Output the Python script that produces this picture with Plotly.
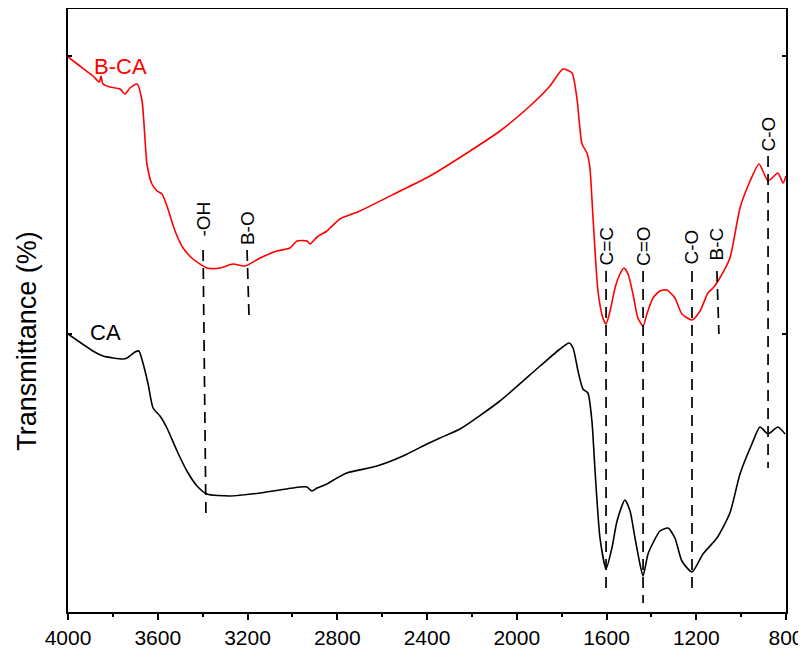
import plotly.graph_objects as go

# B-CA (red) spectrum: wavenumber (cm-1) and transmittance (arbitrary offset units)
bca_wn = [4000, 3947, 3889, 3860, 3853, 3844, 3813, 3768, 3746, 3724, 3692, 3670, 3648, 3626, 3603, 3581, 3559,
          3523, 3487, 3443, 3381, 3323, 3265, 3211, 3144, 3069, 3011, 2979, 2935, 2921, 2890,
          2846, 2788, 2699, 2520, 2387, 2208, 2075, 1941, 1852, 1794, 1754, 1732, 1709, 1687,
          1674, 1660, 1638, 1616, 1602, 1584, 1562, 1540, 1522, 1504, 1482, 1460, 1437, 1420,
          1393, 1362, 1330, 1295, 1264, 1219, 1183, 1148, 1125, 1103, 1050, 1005, 960, 920,
          880, 836, 813, 800]
bca_t = [555, 546, 536, 530, 536, 528, 525, 523, 518, 524, 528, 511, 448, 428, 421, 418, 406,
         381, 364, 353, 344, 344, 348, 346, 354, 361, 364, 371, 371, 368, 375,
         381, 393, 401, 421, 436, 461, 481, 506, 526, 543, 539, 514, 468, 459,
         444, 394, 321, 294, 288, 301, 324, 338, 344, 338, 318, 294, 286, 298,
         314, 321, 322, 314, 298, 292, 301, 319, 324, 331, 354, 404, 431, 448,
         431, 439, 429, 436]

# CA (black) spectrum
ca_wn = [4000, 3889, 3844, 3755, 3737, 3701, 3684, 3666, 3643, 3621, 3590, 3559, 3514, 3470,
         3425, 3381, 3278, 3144, 2966, 2935, 2913, 2890, 2846, 2801, 2757, 2623, 2507, 2400,
         2342, 2253, 2075, 1896, 1807, 1767, 1749, 1727, 1705, 1683, 1665, 1651, 1629, 1602,
         1576, 1553, 1518, 1495, 1473, 1451, 1437, 1415, 1393, 1362, 1326, 1295, 1264, 1219,
         1170, 1108, 1050, 1005, 952, 916, 880, 836, 804]
ca_t = [278, 261, 256, 253, 254, 260, 261, 249, 228, 204, 196, 184, 161, 141,
        126, 118, 116, 119, 125, 125, 121, 124, 128, 134, 139, 146, 156, 168,
        174, 183, 211, 246, 263, 269, 264, 241, 223, 219, 191, 141, 74, 43,
        64, 91, 112, 101, 74, 48, 36, 58, 69, 81, 84, 74, 51, 40,
        58, 74, 99, 138, 168, 185, 178, 185, 178]

# Band markers: label, x at top, x at bottom, y top, y bottom
band_labels = ["-OH", "B-O", "C=C", "C=O", "C-O", "B-C", "C-O"]
band_x_top = [3398, 3202, 1602, 1437, 1219, 1108, 880]
band_x_bot = [3385, 3193, 1602, 1437, 1219, 1099, 880]
band_y_top = [362, 362, 341, 341, 341, 341, 456]
band_y_bot = [93, 294, 23, 9, 24, 278, 144]
band_label_gap = [11, 3, 3, 3, 5, 9, 2]

x_ticks = [4000, 3600, 3200, 2800, 2400, 2000, 1600, 1200, 800]

FONT = "Arial, Liberation Sans, sans-serif"

fig = go.Figure()
fig.add_trace(go.Scatter(x=bca_wn, y=bca_t, mode="lines",
                         line=dict(color="#ff0000", width=1.6, shape="spline", smoothing=0.6),
                         showlegend=False, hoverinfo="skip"))
fig.add_trace(go.Scatter(x=ca_wn, y=ca_t, mode="lines",
                         line=dict(color="#000000", width=1.6, shape="spline", smoothing=0.6),
                         showlegend=False, hoverinfo="skip"))

for lab, xt, xb, yt, yb, gap in zip(band_labels, band_x_top, band_x_bot, band_y_top, band_y_bot, band_label_gap):
    fig.add_shape(type="line", x0=xt, x1=xb, y0=yt, y1=yb, xref="x", yref="y",
                  line=dict(color="black", width=1.7, dash="11px,7px"))
    fig.add_annotation(x=xt, y=yt, text=lab, textangle=-90, showarrow=False,
                       xanchor="center", yanchor="bottom", yshift=gap,
                       font=dict(family=FONT, size=19, color="black"))

fig.add_annotation(x=3895, y=546, text="B-CA", showarrow=False, xanchor="left", yanchor="middle",
                   font=dict(family=FONT, size=22, color="#ff0000"))
fig.add_annotation(x=3912, y=280, text="CA", showarrow=False, xanchor="left", yanchor="middle",
                   font=dict(family=FONT, size=22, color="black"))

# y-axis title
fig.add_annotation(xref="paper", yref="paper", x=-0.057, y=0.45, text="Transmittance (%)",
                   textangle=-90, showarrow=False, xanchor="center", yanchor="middle",
                   font=dict(family=FONT, size=27, color="black"))

# the page body adds an 8px offset, so the figure is sized/margined to compensate
fig.update_layout(
    width=798, height=649,
    margin=dict(l=60, r=20, t=1, b=45, autoexpand=False),
    plot_bgcolor="white", paper_bgcolor="white",
    font=dict(family=FONT, color="black"),
)
fig.update_xaxes(range=[4000, 800], tickvals=x_ticks, ticktext=[str(v) for v in x_ticks],
                 ticks="outside", ticklen=6, tickwidth=1.5, tickcolor="black",
                 minor=dict(dtick=200, ticks="outside", ticklen=3, tickwidth=1.5, tickcolor="black"),
                 showline=True, linecolor="black", linewidth=1.6, mirror=True, automargin=False,
                 showgrid=False, zeroline=False, tickfont=dict(size=21, family=FONT))
fig.update_yaxes(range=[0, 603], tickvals=[0, 278, 556], showticklabels=False,
                 ticks="inside", ticklen=4, tickwidth=1.5, tickcolor="black",
                 showline=True, linecolor="black", linewidth=1.6, mirror="ticks", automargin=False,
                 showgrid=False, zeroline=False)

fig.write_html("out.html")
